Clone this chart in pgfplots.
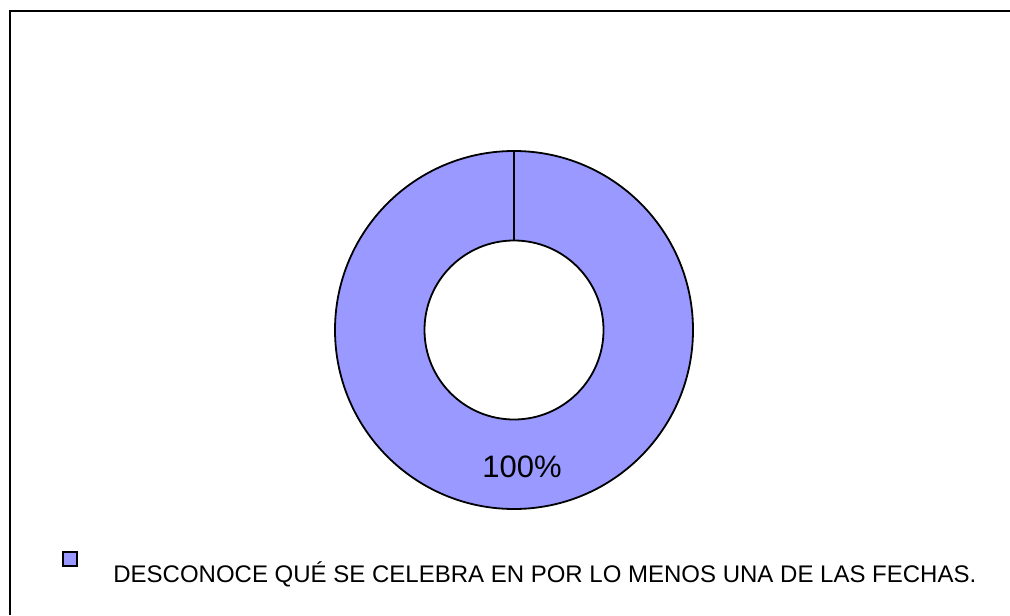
\documentclass[border=0pt]{standalone}
\usepackage{pgfplots}
\pgfplotsset{compat=1.18}
\usepackage{fontspec}
\setmainfont{Liberation Sans}
\definecolor{slice}{HTML}{9999FF}
\begin{document}
\begin{tikzpicture}
\begin{axis}[
  scale only axis, width=505pt, height=307.5pt,
  xmin=0, xmax=1010, ymin=0, ymax=615, y dir=reverse,
  hide axis, clip=false]
\path[use as bounding box] (axis cs:0,0) rectangle (axis cs:1010,615);
% frame (right and bottom edges lie outside the picture)
\draw[line width=1.4pt, black] (axis cs:1010,11) -- (axis cs:10,11) -- (axis cs:10,615);
% donut: single slice, 100%
\fill[slice, even odd rule] (axis cs:514,330) circle[radius=89.5pt] (axis cs:514,330) circle[radius=44.75pt];
\draw[black, line width=0.9pt] (axis cs:514,330) circle[radius=89.5pt];
\draw[black, line width=0.9pt] (axis cs:514,330) circle[radius=44.75pt];
\draw[black, line width=0.9pt] (axis cs:514,150.5) -- (axis cs:514,240.5);
\node[anchor=base, font=\fontsize{15.5}{18}\selectfont, inner sep=0pt] at (axis cs:522,477) {100\%};
% legend
\draw[black, line width=0.6pt, fill=slice] (axis cs:63,552) rectangle (axis cs:77,566);
\node[anchor=base west, font=\fontsize{12}{14}\selectfont, inner sep=0pt] at (axis cs:113,582) {DESCONOCE QUÉ SE CELEBRA EN POR LO MENOS UNA DE LAS FECHAS.};
\end{axis}
\end{tikzpicture}
\end{document}
